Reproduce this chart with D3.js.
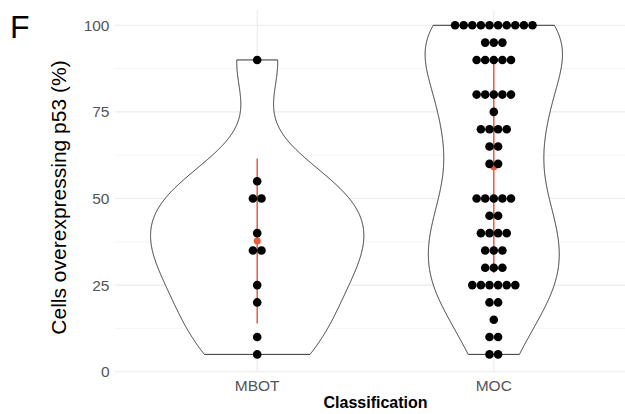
<!DOCTYPE html>
<html><head><meta charset="utf-8">
<script src="https://cdn.jsdelivr.net/npm/d3@7"></script>
<style>body{margin:0;background:#fff}svg{display:block}</style>
</head><body>
<svg id="chart" width="625" height="414"></svg>
<script>
const categories = ["MBOT", "MOC"];
const mbotValues = [90, 55, 50, 50, 40, 35, 35, 25, 20, 10, 5];
const mocValues = [100,100,100,100,100,100,100,100,100,100,
  95,95,95, 90,90,90,90,90, 80,80,80,80,80, 75, 70,70,70,70,
  65,65, 60,60, 50,50,50,50,50, 45,45, 40,40,40,40, 35,35,35,
  30,30,30, 25,25,25,25,25,25, 20,20, 15, 10,10, 5,5];
const yTicks = [0, 25, 50, 75, 100];
const yMinor = [12.5, 37.5, 62.5, 87.5];
const titleY = "Cells overexpressing p53 (%)";
const titleX = "Classification";
const panelLabel = "F";

const groups = [
  {name: categories[0], values: mbotValues},
  {name: categories[1], values: mocValues}
];

const svg = d3.select("#chart");
const W = 625, H = 414;
const panel = {left: 115, right: 636, top: 10, bottom: 371.7};
const unit = 237;
const x = d3.scalePoint().domain(categories)
  .range([panel.left + 0.6 * unit, panel.right - 0.6 * unit]);
const y = d3.scaleLinear().domain([0, 100]).range([371.7, 25.3]);

// grid
const grid = svg.append("g");
grid.selectAll("line.minor").data(yMinor).join("line")
  .attr("x1", panel.left).attr("x2", W).attr("y1", d => y(d)).attr("y2", d => y(d))
  .attr("stroke", "#f2f2f2").attr("stroke-width", 0.8);
grid.selectAll("line.major").data(yTicks).join("line")
  .attr("x1", panel.left).attr("x2", W).attr("y1", d => y(d)).attr("y2", d => y(d))
  .attr("stroke", "#ebebeb").attr("stroke-width", 1.1);
grid.selectAll("line.vx").data(categories).join("line")
  .attr("x1", d => x(d)).attr("x2", d => x(d)).attr("y1", panel.top).attr("y2", panel.bottom)
  .attr("stroke", "#ebebeb").attr("stroke-width", 1.1);

// KDE helpers
function quantile7(sorted, p) { return d3.quantileSorted(sorted, p); }
function bwNrd0(v) {
  const s = v.slice().sort(d3.ascending);
  const sd = d3.deviation(v);
  const iqr = quantile7(s, 0.75) - quantile7(s, 0.25);
  let lo = Math.min(sd, iqr / 1.34);
  if (!(lo > 0)) lo = sd || Math.abs(s[0]) || 1;
  return 0.9 * lo * Math.pow(v.length, -0.2);
}
function kde(v) {
  const bw = bwNrd0(v);
  const mn = d3.min(v), mx = d3.max(v);
  const pts = [];
  for (let i = 0; i < 512; i++) {
    const t = mn + (mx - mn) * i / 511;
    let s = 0;
    for (const xi of v) { const z = (t - xi) / bw; s += Math.exp(-0.5 * z * z); }
    pts.push([t, s / (v.length * bw * Math.sqrt(2 * Math.PI))]);
  }
  return pts;
}
groups.forEach(g => g.dens = kde(g.values));
const maxDens = d3.max(groups, g => d3.max(g.dens, d => d[1]));
const halfW = d3.scaleLinear().domain([0, maxDens]).range([0, 0.45 * unit]);

// violins
groups.forEach(g => {
  const cx = x(g.name);
  const right = g.dens.map(d => [cx + halfW(d[1]), y(d[0])]);
  const left = g.dens.slice().reverse().map(d => [cx - halfW(d[1]), y(d[0])]);
  svg.append("path")
    .attr("d", d3.line()(right.concat(left)) + "Z")
    .attr("fill", "#fff").attr("stroke", "#333").attr("stroke-width", 1);
});

// mean +- sd
const red = "#EA5A3C";
groups.forEach(g => {
  const m = d3.mean(g.values), s = d3.deviation(g.values);
  const cx = x(g.name);
  svg.append("line").attr("x1", cx).attr("x2", cx)
    .attr("y1", y(m - s)).attr("y2", y(m + s))
    .attr("stroke", red).attr("stroke-width", 1.5);
  svg.append("circle").attr("cx", cx).attr("cy", y(m)).attr("r", 3.6).attr("fill", red);
});

// dots
const dotD = 8.6;
groups.forEach(g => {
  const counts = d3.rollups(g.values, v => v.length, d => d);
  const cx = x(g.name);
  const dots = [];
  counts.forEach(([val, n]) => {
    for (let i = 0; i < n; i++) dots.push({cx: cx + (i - (n - 1) / 2) * dotD, v: val});
  });
  svg.append("g").selectAll("circle").data(dots).join("circle")
    .attr("cx", d => d.cx).attr("cy", d => y(d.v)).attr("r", dotD / 2).attr("fill", "#000");
});

// axes text
const font = "'Liberation Sans', Arial, Helvetica, sans-serif";
svg.append("g").selectAll("text").data(yTicks).join("text")
  .attr("x", 109.5).attr("y", d => y(d)).attr("dy", "0.36em")
  .attr("text-anchor", "end").attr("font-family", font).attr("font-size", 15.5)
  .attr("fill", "#555").text(d => d);
svg.append("g").selectAll("text").data(categories).join("text")
  .attr("x", d => x(d)).attr("y", 391).attr("text-anchor", "middle")
  .attr("font-family", font).attr("font-size", 15.5).attr("fill", "#555").text(d => d);
svg.append("text").attr("x", (panel.left + panel.right) / 2).attr("y", 408.3)
  .attr("text-anchor", "middle").attr("font-family", font).attr("font-weight", "bold")
  .attr("font-size", 16).attr("fill", "#000").text(titleX);
svg.append("text").attr("transform", "translate(65.5,197.5) rotate(-90)")
  .attr("text-anchor", "middle").attr("font-family", font)
  .attr("font-size", 21).attr("fill", "#000").text(titleY);
svg.append("text").attr("x", 10).attr("y", 38).attr("font-family", font)
  .attr("font-size", 32).attr("fill", "#000").text(panelLabel);
</script>
</body></html>
